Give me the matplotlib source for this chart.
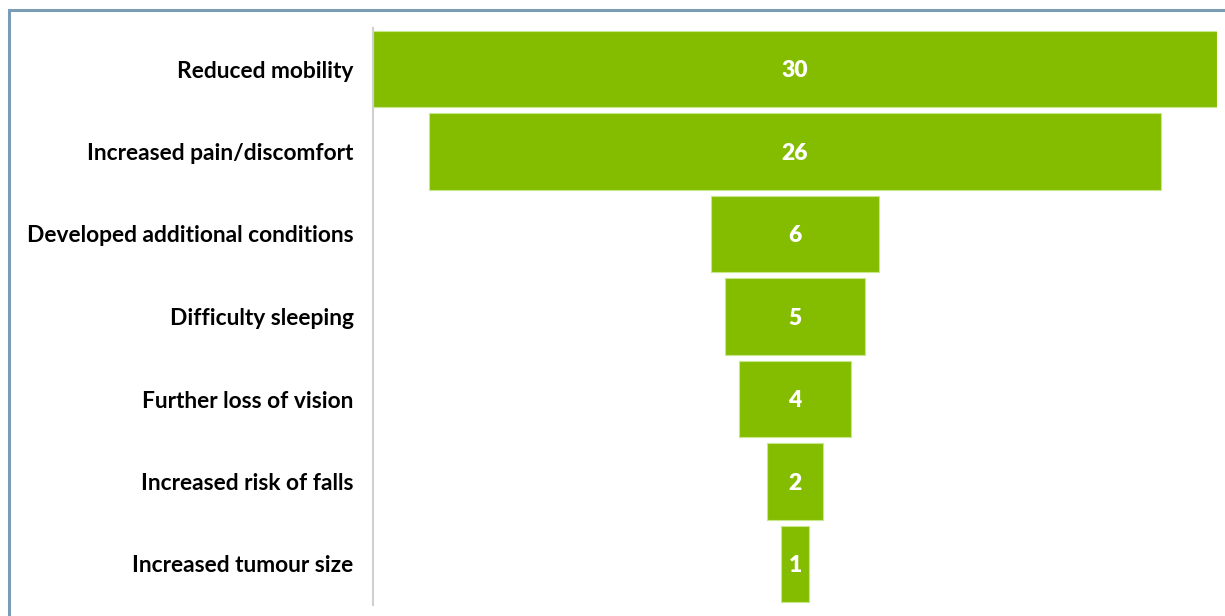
import matplotlib
matplotlib.use("Agg")
import matplotlib.pyplot as plt
from matplotlib.lines import Line2D

categories = [
    "Reduced mobility",
    "Increased pain/discomfort",
    "Developed additional conditions",
    "Difficulty sleeping",
    "Further loss of vision",
    "Increased risk of falls",
    "Increased tumour size",
]
counts = [30, 26, 6, 5, 4, 2, 1]

W, H = 1225, 616
fig = plt.figure(figsize=(W / 100, H / 100), dpi=100)
fig.patch.set_facecolor("white")

# axes placed in pixel terms
left_px, right_px = 373, 1217
top_px, bot_px = 27.75, 605.25
ax = fig.add_axes([left_px / W, 1 - bot_px / H, (right_px - left_px) / W, (bot_px - top_px) / H])

green = "#84BC00"
ypos = list(range(len(categories)))
lefts = [-c / 2 for c in counts]
ax.barh(ypos, counts, left=lefts, height=0.93, color=green,
        edgecolor="#c8e68a", linewidth=0.8)

for y, c in zip(ypos, counts):
    ax.text(0, y + 0.02, str(c), ha="center", va="center", color="white",
            fontsize=16.5, fontweight="heavy", family="Lato")

ax.set_xlim(-15, 15)
ax.set_ylim(len(categories) - 0.5, -0.5)
ax.set_xticks([])
ax.set_yticks(ypos)
ax.set_yticklabels(categories, fontsize=16.4, fontweight="bold", family="Lato")
ax.tick_params(axis="y", length=0, pad=14)
for lbl in ax.get_yticklabels():
    lbl.set_y(lbl.get_position()[1])
for s in ("top", "right", "bottom"):
    ax.spines[s].set_visible(False)
ax.spines["left"].set_color("#d0d0d0")
ax.spines["left"].set_linewidth(1.5)

# outer frame along the top and left edges
frame_color = "#7a9cb4"
fig.add_artist(Line2D([9 / W, 9 / W], [0, 1 - 10 / H], transform=fig.transFigure,
                      color=frame_color, linewidth=2.2))
fig.add_artist(Line2D([9 / W, 1], [1 - 10 / H, 1 - 10 / H], transform=fig.transFigure,
                      color=frame_color, linewidth=2.2))

fig.savefig("out.png", dpi=100)
